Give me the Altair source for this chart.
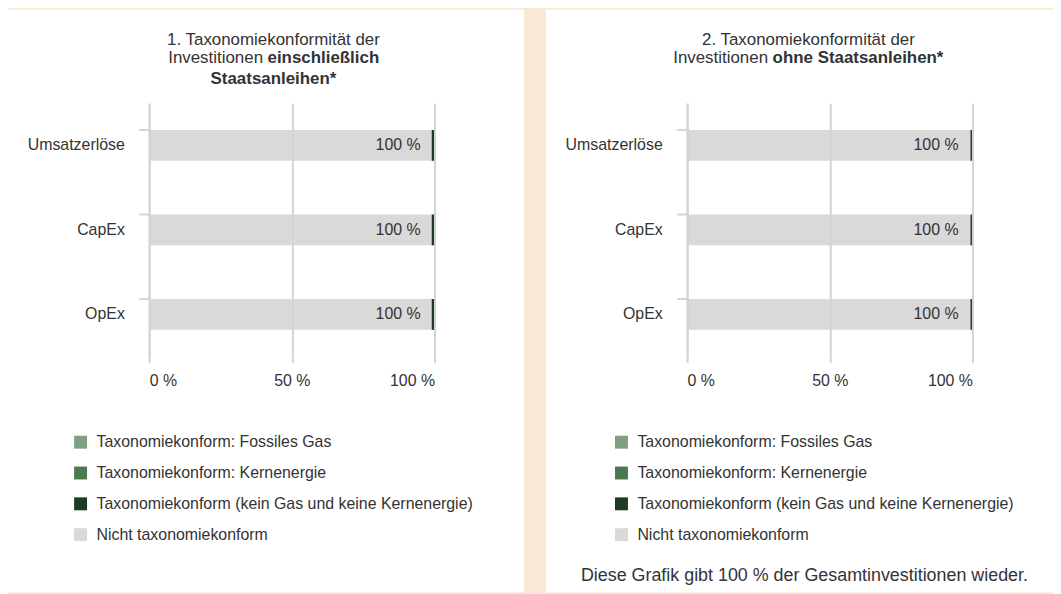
import altair as alt
import pandas as pd

# ---- data ----
categories = ["Umsatzerlöse", "CapEx", "OpEx"]
segments = [
    "Taxonomiekonform: Fossiles Gas",
    "Taxonomiekonform: Kernenergie",
    "Taxonomiekonform (kein Gas und keine Kernenergie)",
    "Nicht taxonomiekonform",
]
seg_colors = ["#7f9f80", "#4b7a4f", "#1d3b1f", "#d9d9d9"]

left_not_aligned = [99.0, 99.0, 99.0]
left_aligned = [1.0, 1.0, 1.0]
right_not_aligned = [99.3, 99.3, 99.3]
right_aligned = [0.7, 0.7, 0.7]
bar_labels = ["100 %", "100 %", "100 %"]
x_ticks = [0, 50, 100]

left_title = ["1. Taxonomiekonformität der", "Investitionen", "einschließlich", "Staatsanleihen*"]
right_title = ["2. Taxonomiekonformität der", "Investitionen", "ohne Staatsanleihen*"]
footer = "Diese Grafik gibt 100 % der Gesamtinvestitionen wieder."

FONT = "Liberation Sans"
TXT = "#333333"
GRID = "#d4d4d4"
PEACH = "#fae8d6"


def bar_frame(not_aligned, aligned):
    rows = []
    for c, n, a in zip(categories, not_aligned, aligned):
        rows.append({"cat": c, "seg": segments[3], "val": n, "ord": 0})
        rows.append({"cat": c, "seg": segments[2], "val": a, "ord": 1})
    return pd.DataFrame(rows)


def label_frame():
    return pd.DataFrame({"cat": categories, "lab": bar_labels, "pos": [100] * len(categories)})


x_scale = alt.Scale(domain=[0, 100], nice=False)
y_scale = alt.Scale(paddingInner=0.635, paddingOuter=0.3175)

x_axis = alt.Axis(values=x_ticks, labelExpr="datum.value + ' %'", grid=True, gridColor=GRID,
                  gridWidth=2, domain=False, tickColor=GRID, tickWidth=2, tickSize=6,
                  labelFontSize=16, labelColor=TXT, labelPadding=10, title=None, zindex=1,
                  labelFont=FONT)
y_axis = alt.Axis(title=None, ticks=False, domain=True, domainColor=GRID, domainWidth=2,
                  labelFontSize=16, labelColor=TXT, labelPadding=25, zindex=1, grid=False,
                  labelFont=FONT)


def text_layer(txt, x, y, align="center", bold=False, size=17):
    return alt.Chart(alt.Data(values=[{"t": txt}])).mark_text(
        align=align, baseline="middle", fontSize=size, font=FONT, color=TXT,
        fontWeight="bold" if bold else "normal"
    ).encode(text="t:N", x=alt.value(x), y=alt.value(y))


def panel(not_aligned, aligned, title_layers, legend_x, right_edge, extra=None):
    bg = alt.Chart(alt.Data(values=[{}])).mark_rect(color="white").encode(
        x=alt.value(-142), x2=alt.value(right_edge), y=alt.value(-94), y2=alt.value(492)
    )
    bars = alt.Chart(bar_frame(not_aligned, aligned)).mark_bar(strokeWidth=0).encode(
        y=alt.Y("cat:N", sort=categories, scale=y_scale, axis=y_axis),
        x=alt.X("val:Q", stack="zero", scale=x_scale, axis=x_axis),
        color=alt.Color("seg:N", scale=alt.Scale(domain=segments, range=seg_colors),
                        legend=alt.Legend(title=None, orient="none", legendX=legend_x, legendY=333,
                                          symbolType="square", symbolSize=169, symbolStrokeWidth=0,
                                          labelFontSize=16, labelColor=TXT, labelFont=FONT,
                                          rowPadding=15, labelOffset=8, labelLimit=600, padding=0)),
        order=alt.Order("ord:Q"),
    )
    labels = alt.Chart(label_frame()).mark_text(
        align="right", baseline="middle", dx=-14, fontSize=16, font=FONT, color=TXT
    ).encode(
        y=alt.Y("cat:N", sort=categories, scale=y_scale, axis=y_axis),
        x=alt.X("pos:Q", scale=x_scale, axis=x_axis),
        text="lab:N",
    )
    yticks = alt.Chart(pd.DataFrame({"cat": categories})).mark_rule(color=GRID, strokeWidth=2).encode(
        y=alt.Y("cat:N", sort=categories, scale=y_scale, axis=y_axis, bandPosition=0),
        x=alt.value(-10), x2=alt.value(0),
    )
    layers = [bg, bars, labels, yticks] + title_layers
    if extra is not None:
        layers += extra
    return alt.layer(*layers).properties(width=287, height=255)


left = panel(
    left_not_aligned, left_aligned,
    [
        text_layer(left_title[0], 125, -63),
        text_layer(left_title[1], 114.5, -45, align="right"),
        text_layer(left_title[2], 119, -45, align="left", bold=True),
        text_layer(left_title[3], 125, -24, bold=True),
    ],
    legend_x=-77,
    right_edge=377,
)

right = panel(
    right_not_aligned, right_aligned,
    [
        text_layer(right_title[0], 122, -63),
        text_layer(right_title[1], 81.4, -45, align="right"),
        text_layer(right_title[2], 86, -45, align="left", bold=True),
    ],
    legend_x=-74,
    right_edge=368,
    extra=[text_layer(footer, 118, 476, size=18)],
)

chart = alt.hconcat(left, right, spacing=22).resolve_scale(color="independent").resolve_legend(
    color="independent"
).properties(padding=0).configure(
    background=PEACH, font=FONT
).configure_view(stroke=None, fill="white")

chart.save("out.html", embed_options={"renderer": "svg", "actions": False})
